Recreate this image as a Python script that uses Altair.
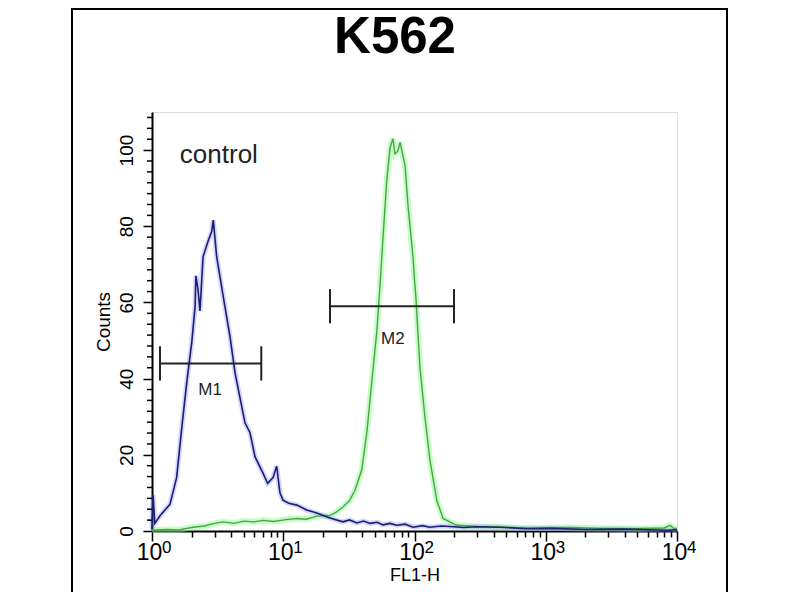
import altair as alt
import pandas as pd

# control (blue) histogram
control_fl = [1.0, 1.02, 1.05, 1.15, 1.37, 1.54, 1.68, 1.84, 2.01, 2.13, 2.16, 2.24,
              2.32, 2.45, 2.67, 2.85, 2.93, 3.11, 3.48, 3.93, 4.29, 4.68, 5.11, 5.58,
              6.09, 7.01, 7.6, 8.36, 8.91, 9.44, 9.96, 11.0, 12.7, 15.1, 18.0, 22.7,
              28.5, 32, 36.3, 41, 45.8, 52, 57.5, 65, 73.2, 85, 97.5, 115, 131, 160,
              186, 236, 300, 448, 700, 1100, 2000, 4000, 8390, 10000]
control_counts = [0.5, 9.4, 2.0, 4.0, 7.0, 14, 26.6, 39, 49.6, 59, 67, 63.5,
                  57.8, 72, 76, 78.6, 81.6, 72, 61.8, 51, 41.6, 35, 28.4, 25.8,
                  19.5, 15.2, 12.5, 14, 17, 10, 8.1, 7.3, 6.8, 5.5, 4.7, 3.4,
                  2.4, 2.9, 2.1, 2.6, 2.0, 2.3, 1.6, 2.0, 1.5, 1.8, 1.0, 1.4, 1.0, 1.3,
                  1.2, 0.9, 1.1, 1.0, 0.6, 0.7, 0.4, 0.5, 0.2, 0.3]

# stained sample (green) histogram
sample_fl = [1.0, 1.3, 1.6, 2.05, 2.5, 3.0, 3.48, 4.2, 5.0, 6.0, 7.0, 8.5, 10.5,
             12.7, 15, 18.1, 22.7, 25, 28.5, 32, 35.2, 39.6, 43.3, 47.2, 51.5, 54.6,
             57.5, 61.4, 65.0, 68.5, 71, 74.5, 77.6, 84.7, 89.2, 97.4, 100, 102.6,
             110, 120, 131, 148, 165, 210, 300, 448, 800, 1500, 2600, 5000, 8000,
             8850, 9500, 10000]
sample_counts = [0.2, 0.4, 0.3, 1.0, 1.3, 2.0, 2.4, 2.0, 2.6, 2.4, 2.8, 2.5, 3.0,
                 3.3, 3.1, 3.9, 4.1, 4.8, 6.3, 8.0, 10.7, 16, 25.8, 39, 52, 64.4,
                 76.8, 91.8, 100.5, 103, 99, 99.7, 102, 96, 85.5, 72, 66, 61,
                 43, 30, 18.7, 8, 3.3, 1.5, 1.2, 1.0, 0.8, 0.9, 0.7, 0.6, 0.8,
                 1.5, 0.6, 0.7]

# gate markers
marker_names = ["M1", "M2"]
marker_lo = [1.15, 22.7]
marker_hi = [6.8, 200]
marker_y = [44, 59]
marker_label_x = [2.77, 68.5]
marker_label_y = [37, 50.4]

# axis ticks
x_ticks = [m * 10 ** d for d in range(4) for m in range(1, 10)] + [10000]
x_majors = [1, 10, 100, 1000, 10000]
x_exponents = ["0", "1", "2", "3", "4"]
y_majors = [0, 20, 40, 60, 80, 100]
y_minors = [i * 20 / 7 for i in range(39) if i % 7]

FONT = "Liberation Sans"
TITLE = "K562"

control = pd.DataFrame({"fl": control_fl, "counts": control_counts})
sample = pd.DataFrame({"fl": sample_fl, "counts": sample_counts})
markers = pd.DataFrame({
    "name": marker_names, "lo": marker_lo, "hi": marker_hi, "y": marker_y,
    "lx": marker_label_x, "ly": marker_label_y,
})
markers["y0"] = markers["y"] - 4.5
markers["y1"] = markers["y"] + 4.5
exps = pd.DataFrame({"fl": x_majors, "e": x_exponents, "counts": 0})
minor = pd.DataFrame({"counts": y_minors})

is_major_x = "abs(log(datum.value)/LN10 - round(log(datum.value)/LN10)) < 0.001"

x_enc = alt.X(
    "fl:Q",
    scale=alt.Scale(type="log", domain=[1, 10000], nice=False),
    axis=alt.Axis(
        values=x_ticks, title="FL1-H", titleFont=FONT, titleFontSize=18,
        titleFontWeight="normal", titlePadding=2,
        labelExpr=f"{is_major_x} ? '10' : ''", labelFont=FONT, labelFontSize=23,
        labelColor="black", labelOverlap=False, labelBound=False, labelFlush=False,
        labelPadding=0, labelOffset=-3,
        tickColor="black", tickWidth=1.5,
        tickSize={"condition": {"test": is_major_x, "value": 10}, "value": 6},
        domainColor="black", domainWidth=2, grid=False,
    ),
)
y_enc = alt.Y(
    "counts:Q",
    scale=alt.Scale(domain=[0, 110], nice=False),
    axis=alt.Axis(
        values=y_majors, title="Counts", titleFont=FONT, titleFontSize=19,
        titleFontWeight="normal", titlePadding=4,
        labelFont=FONT, labelFontSize=19, labelColor="black", labelAngle=270,
        labelAlign="center", labelBaseline="bottom",
        labelOverlap=False, labelBound=False, labelFlush=False, labelPadding=7,
        tickColor="black", tickWidth=1.5, tickSize=9,
        domainColor="black", domainWidth=2, grid=False,
    ),
)

# outer picture frame
frame = alt.Chart(pd.DataFrame({"a": [0]})).mark_rect(
    filled=False, stroke="black", strokeWidth=2
).encode(x=alt.value(-80), x2=alt.value(575), y=alt.value(-103), y2=alt.value(490))

title_text = alt.Chart(pd.DataFrame({"t": [TITLE]})).mark_text(
    font=FONT, fontSize=51, fontWeight="bold", color="black",
    align="center", baseline="alphabetic"
).encode(x=alt.value(243), y=alt.value(-59), text="t:N")

green_halo = alt.Chart(sample).mark_line(
    color="#7CFC7C", strokeWidth=6, opacity=0.45
).encode(x=x_enc, y=y_enc)
blue_halo = alt.Chart(control).mark_line(
    color="#7f86ff", strokeWidth=5, opacity=0.35
).encode(x="fl:Q", y="counts:Q")
green_line = alt.Chart(sample).mark_line(
    color="#4fa04f", strokeWidth=1.4
).encode(x="fl:Q", y="counts:Q")
blue_line = alt.Chart(control).mark_line(
    color="#1c1f6a", strokeWidth=1.6
).encode(x="fl:Q", y="counts:Q")

# minor ticks on the counts axis
y_minor_ticks = alt.Chart(minor).mark_rule(color="black", strokeWidth=1.5).encode(
    x=alt.value(-5), x2=alt.value(0), y="counts:Q"
)

gate_bar = alt.Chart(markers).mark_rule(color="#222222", strokeWidth=2).encode(
    x="lo:Q", x2="hi:Q", y="y:Q"
)
gate_lo = alt.Chart(markers).mark_rule(color="#222222", strokeWidth=2).encode(
    x="lo:Q", y="y0:Q", y2="y1:Q"
)
gate_hi = alt.Chart(markers).mark_rule(color="#222222", strokeWidth=2).encode(
    x="hi:Q", y="y0:Q", y2="y1:Q"
)
gate_text = alt.Chart(markers).mark_text(
    font=FONT, fontSize=17, color="#222222", baseline="middle"
).encode(x="lx:Q", y="ly:Q", text="name:N")

control_text = alt.Chart(pd.DataFrame({"fl": [1.63], "counts": [98.7], "t": ["control"]})).mark_text(
    font=FONT, fontSize=26, color="#222222", align="left", baseline="middle"
).encode(x="fl:Q", y="counts:Q", text="t:N")

exp_text = alt.Chart(exps).mark_text(
    font=FONT, fontSize=17, color="black", align="left", baseline="middle", dx=10, dy=17
).encode(x="fl:Q", y="counts:Q", text="e:N")

chart = alt.layer(
    frame, title_text, green_halo, blue_halo, green_line, blue_line, y_minor_ticks,
    gate_bar, gate_lo, gate_hi, gate_text, control_text, exp_text,
).properties(
    width=525,
    height=419,
    autosize=alt.AutoSizeParams(type="none"),
    padding={"left": 144, "top": 104, "right": 115, "bottom": 61},
).configure_view(stroke="black", strokeWidth=2).configure(background="white")

chart.save("out.html", embed_options={"renderer": "svg", "actions": False})
